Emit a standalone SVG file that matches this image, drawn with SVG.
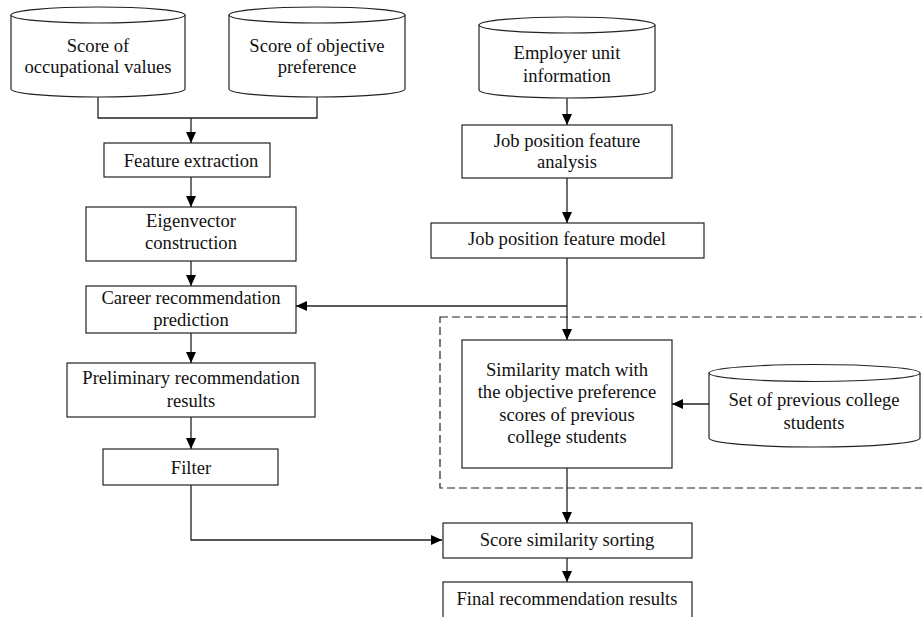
<svg xmlns="http://www.w3.org/2000/svg" width="922" height="617" viewBox="0 0 922 617">
<style>
.box{fill:#fff;stroke:#222;stroke-width:1.2}
.cyl{fill:#fff;stroke:#222;stroke-width:1.2}
.t{font-family:'Liberation Serif','Times New Roman',Tinos,serif;font-size:18.6px;fill:#111;text-anchor:middle}
.c{fill:none;stroke:#222;stroke-width:1.3}
.dash{fill:none;stroke:#222;stroke-width:1.2;stroke-dasharray:8 4}
</style>
<defs>
<marker id="ah" markerUnits="userSpaceOnUse" markerWidth="11" markerHeight="10" viewBox="0 0 11 10" refX="11" refY="5" orient="auto">
<path d="M0,0 L11,5 L0,10 z" fill="#000"/>
</marker>
</defs>
<rect class="dash" x="440" y="317" width="492" height="171"/>
<g id="connectors">
<path class="c" d="M98,97 V118 H317 V97"/>
<path class="c" d="M191,118 V143" marker-end="url(#ah)"/>
<path class="c" d="M191,177 V207" marker-end="url(#ah)"/>
<path class="c" d="M191,261 V286" marker-end="url(#ah)"/>
<path class="c" d="M191,333 V363" marker-end="url(#ah)"/>
<path class="c" d="M191,417 V449" marker-end="url(#ah)"/>
<path class="c" d="M191,485 V540 H442" marker-end="url(#ah)"/>
<path class="c" d="M567,98 V125" marker-end="url(#ah)"/>
<path class="c" d="M567,178 V223" marker-end="url(#ah)"/>
<path class="c" d="M567,258 V340" marker-end="url(#ah)"/>
<path class="c" d="M567,306 H296" marker-end="url(#ah)"/>
<path class="c" d="M709,404 H672" marker-end="url(#ah)"/>
<path class="c" d="M567,468 V523" marker-end="url(#ah)"/>
<path class="c" d="M567,558 V582" marker-end="url(#ah)"/>
</g>
<g id="cyl-occupational">
<path class="cyl" d="M11,15 V89 A87,8 0 0 0 185,89 V15"/>
<ellipse class="cyl" cx="98" cy="15" rx="87" ry="8"/>
<text class="t" x="98" y="52">Score of</text>
<text class="t" x="98" y="73">occupational values</text>
</g>
<g id="cyl-objective">
<path class="cyl" d="M229,15 V89 A88,8 0 0 0 405,89 V15"/>
<ellipse class="cyl" cx="317" cy="15" rx="88" ry="8"/>
<text class="t" x="317" y="52">Score of objective</text>
<text class="t" x="317" y="73">preference</text>
</g>
<g id="feature-extraction">
<rect class="box" x="104" y="143" width="166" height="34"/>
<text class="t" x="191" y="167">Feature extraction</text>
</g>
<g id="eigenvector">
<rect class="box" x="86" y="207" width="210" height="54"/>
<text class="t" x="191" y="227">Eigenvector</text>
<text class="t" x="191" y="249">construction</text>
</g>
<g id="career">
<rect class="box" x="86" y="286" width="210" height="47"/>
<text class="t" x="191" y="304">Career recommendation</text>
<text class="t" x="191" y="326">prediction</text>
</g>
<g id="preliminary">
<rect class="box" x="67" y="363" width="248" height="54"/>
<text class="t" x="191" y="384">Preliminary recommendation</text>
<text class="t" x="191" y="407">results</text>
</g>
<g id="filter">
<rect class="box" x="103" y="449" width="175" height="36"/>
<text class="t" x="191" y="474">Filter</text>
</g>
<g id="cyl-employer">
<path class="cyl" d="M479,25 V90 A88,8 0 0 0 655,90 V25"/>
<ellipse class="cyl" cx="567" cy="25" rx="88" ry="8"/>
<text class="t" x="567" y="59">Employer unit</text>
<text class="t" x="567" y="82">information</text>
</g>
<g id="job-analysis">
<rect class="box" x="462" y="125" width="210" height="53"/>
<text class="t" x="567" y="147">Job position feature</text>
<text class="t" x="567" y="168">analysis</text>
</g>
<g id="job-model">
<rect class="box" x="431" y="223" width="273" height="35"/>
<text class="t" x="567" y="245">Job position feature model</text>
</g>
<g id="similarity-match">
<rect class="box" x="462" y="340" width="210" height="128"/>
<text class="t" x="567" y="376">Similarity match with</text>
<text class="t" x="567" y="398">the objective preference</text>
<text class="t" x="567" y="421">scores of previous</text>
<text class="t" x="567" y="443">college students</text>
</g>
<g id="cyl-previous">
<path class="cyl" d="M709,373 V438 A105.5,9 0 0 0 920,438 V373"/>
<ellipse class="cyl" cx="814.5" cy="373" rx="105.5" ry="8.5"/>
<text class="t" x="814" y="406">Set of previous college</text>
<text class="t" x="814" y="429">students</text>
</g>
<g id="score-sorting">
<rect class="box" x="443" y="523" width="249" height="35"/>
<text class="t" x="567" y="546">Score similarity sorting</text>
</g>
<g id="final">
<rect class="box" x="443" y="582" width="249" height="50"/>
<text class="t" x="567" y="605">Final recommendation results</text>
</g>
</svg>
